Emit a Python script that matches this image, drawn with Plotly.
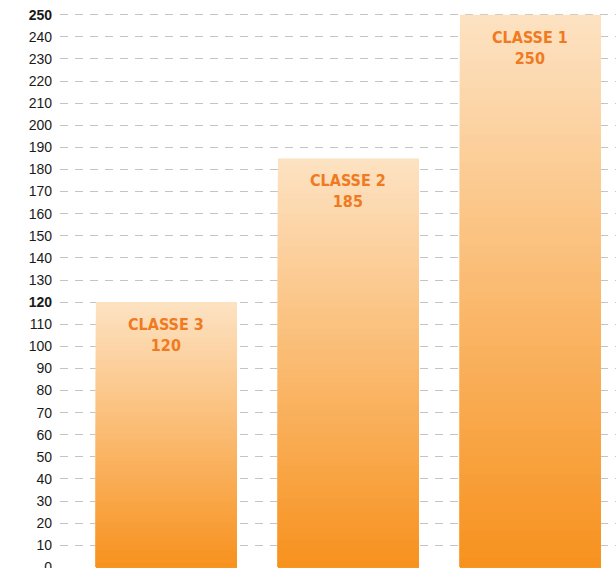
import plotly.graph_objects as go

# Data
categories = ["CLASSE 3", "CLASSE 2", "CLASSE 1"]
values = [120, 185, 250]
tick_values = list(range(0, 251, 10))
bold_ticks = [120, 250]

# Gradient colours: bottom (strong orange) -> top (light peach)
bottom_rgb = (247, 145, 28)
top_rgb = (253, 226, 194)
steps = 60

positions = [0, 1, 2]


def mix(t):
    r = round(bottom_rgb[0] + (top_rgb[0] - bottom_rgb[0]) * t)
    g = round(bottom_rgb[1] + (top_rgb[1] - bottom_rgb[1]) * t)
    b = round(bottom_rgb[2] + (top_rgb[2] - bottom_rgb[2]) * t)
    return f"rgb({r},{g},{b})"


fig = go.Figure()

# Overlaid bars, tallest/lightest first, each shorter one darker on top,
# building a vertical gradient scaled to each bar's own height.
for k in range(steps):
    frac = 1 - k / steps
    fig.add_trace(go.Bar(
        x=positions,
        y=[v * frac for v in values],
        width=0.775,
        marker=dict(color=mix(frac), line=dict(width=0)),
        hoverinfo="skip",
        showlegend=False,
    ))

for pos, cat, val in zip(positions, categories, values):
    fig.add_annotation(
        x=pos, y=val, xref="x", yref="y",
        text=f"<b>{cat}<br>{val}</b>",
        showarrow=False, yanchor="top", yshift=-11,
        font=dict(family="DejaVu Sans Condensed, Liberation Sans Narrow, sans-serif",
                  size=16, color="#ef7a21"),
    )

tick_text = [f"<b>{t}</b>" if t in bold_ticks else str(t) for t in tick_values]

fig.update_layout(
    width=616, height=568,
    margin=dict(l=60, r=0, t=13, b=0, autoexpand=False),
    paper_bgcolor="white", plot_bgcolor="white",
    barmode="overlay",
    xaxis=dict(range=[-0.585, 2.47], showticklabels=False, showgrid=False,
               zeroline=False, showline=False, ticks="", automargin=False),
    yaxis=dict(range=[-0.3, 250.8], tickvals=tick_values, ticktext=tick_text,
               showgrid=True, gridcolor="#c4c4c4", gridwidth=1,
               griddash="8px,7px", zeroline=False, showline=False,
               ticks="", ticklabelstandoff=7, ticklabeloverflow="allow",
               automargin=False,
               tickfont=dict(family="Liberation Sans, Arial, sans-serif",
                             size=14, color="#1a1a1a")),
)

fig.write_html("out.html")
